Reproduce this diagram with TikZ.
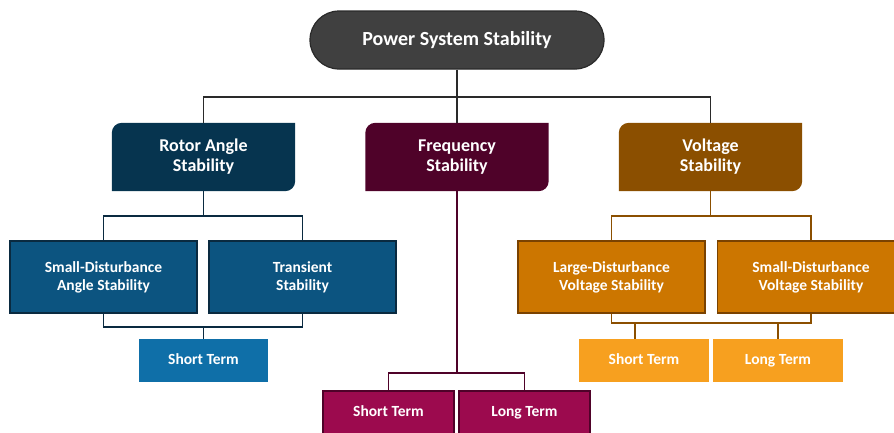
\documentclass[tikz,border=0pt]{standalone}
\usepackage{fontspec}
\setmainfont{Carlito}
\pgfdeclarelayer{bg}
\pgfsetlayers{bg,main}
\definecolor{rootc}{HTML}{404040}
\definecolor{rootb}{HTML}{2A2A2A}
\definecolor{rotc}{HTML}{06344F}
\definecolor{rotk}{HTML}{0C5480}
\definecolor{rotb}{HTML}{0A2A40}
\definecolor{rott}{HTML}{0F6FA8}
\definecolor{frqc}{HTML}{4F0229}
\definecolor{frqt}{HTML}{9C0A4E}
\definecolor{volc}{HTML}{8B4F00}
\definecolor{volk}{HTML}{CC7600}
\definecolor{volb}{HTML}{7A4200}
\definecolor{volt}{HTML}{F7A01F}
\newcommand\hdrshape[2]{%
  \begin{pgfonlayer}{bg}
  \fill[#2] (#1.south west) -- ([yshift=-10pt]#1.north west)
    arc[start angle=180,end angle=90,radius=10pt] -- (#1.north east)
    -- ([yshift=10pt]#1.south east)
    arc[start angle=0,end angle=-90,radius=10pt] -- cycle;
  \end{pgfonlayer}}
\tikzset{
  x=1pt, y=-1pt,
  rootbox/.style={fill=rootc, draw=rootb, line width=1.2pt, rounded corners=29pt,
    minimum width=294pt, minimum height=58pt, inner sep=0pt, text=white,
    font=\fontsize{20}{23}\selectfont\bfseries},
  hdr/.style={minimum width=183pt, minimum height=68pt, inner sep=0pt, text=white,
    align=center, font=\fontsize{18}{20}\selectfont\bfseries},
  kid/.style={minimum width=187pt, minimum height=72pt, inner sep=0pt, text=white,
    align=center, line width=1.5pt, font=\fontsize{15.5}{18}\selectfont\bfseries},
  term/.style={minimum width=130pt, minimum height=43pt, inner sep=0pt, text=white,
    text height=11pt, text depth=3.5pt,
    font=\fontsize{15.5}{18}\selectfont\bfseries},
  conn/.style={line width=1.6pt},
}
\begin{document}
\begin{tikzpicture}
\useasboundingbox (0,0) rectangle (894,432);
\clip (0,0) rectangle (894,432);
% root
\node[rootbox] (root) at (457,40) {Power System Stability};
% level 1
\node[hdr] (rotor) at (203.5,157) {Rotor Angle\\Stability};
\node[hdr] (freq) at (457,157) {Frequency\\Stability};
\node[hdr] (volt) at (710.5,157) {Voltage\\Stability};
\hdrshape{rotor}{rotc}
\hdrshape{freq}{frqc}
\hdrshape{volt}{volc}
% level 2
\node[kid, fill=rotk, draw=rotb] (sda) at (103.5,277) {Small-Disturbance\\Angle Stability};
\node[kid, fill=rotk, draw=rotb] (trs) at (302.5,277) {Transient\\Stability};
\node[kid, fill=volk, draw=volb] (ldv) at (611.5,277) {Large-Disturbance\\Voltage Stability};
\node[kid, fill=volk, draw=volb] (sdv) at (811,277) {Small-Disturbance\\Voltage Stability};
% level 3
\node[term, fill=rott, minimum width=129pt] (rst) at (203.5,360.5) {Short Term};
\node[term, fill=volt] (vst) at (644,360.5) {Short Term};
\node[term, fill=volt] (vlt) at (778,360.5) {Long Term};
\node[term, fill=frqt, draw=frqc, line width=1.5pt, minimum width=131pt] (fst) at (388.5,412.5) {Short Term};
\node[term, fill=frqt, draw=frqc, line width=1.5pt, minimum width=131pt] (flt) at (524.5,412.5) {Long Term};
% junctions
\coordinate (topbar) at (457,97);
\coordinate (rbar) at (203.5,216);
\coordinate (rbar2) at (203.5,327);
\coordinate (vbar) at (710.5,216);
\coordinate (vbar2) at (710.5,323);
\coordinate (fbar) at (457,373);
% connectors
\begin{pgfonlayer}{bg}
\draw[conn, draw=rootb] (root.south) -- (freq.north);
\draw[conn, draw=rootb] (rotor.north) |- (topbar) -| (volt.north);
\draw[conn, draw=rotb] (rotor.south) -- (rbar);
\draw[conn, draw=rotb] (sda.north) |- (rbar) -| (trs.north);
\draw[conn, draw=rotb] (sda.south) |- (rbar2) -| (trs.south);
\draw[conn, draw=rotb] (rbar2) -- (rst.north);
\draw[conn, draw=volc] (volt.south) -- (vbar);
\draw[conn, draw=volc] (ldv.north) |- (vbar) -| (sdv.north);
\draw[conn, draw=volc] (ldv.south) |- (vbar2) -| (sdv.south);
\draw[conn, draw=volc] ([xshift=-9pt]vst.north) -- ([xshift=-9pt]vst.north |- vbar2);
\draw[conn, draw=volc] (vlt.north) -- (vlt.north |- vbar2);
\draw[conn, draw=frqc] (freq.south) -- (fbar);
\draw[conn, draw=frqc] (fst.north) |- (fbar) -| (flt.north);
\end{pgfonlayer}
\end{tikzpicture}
\end{document}
